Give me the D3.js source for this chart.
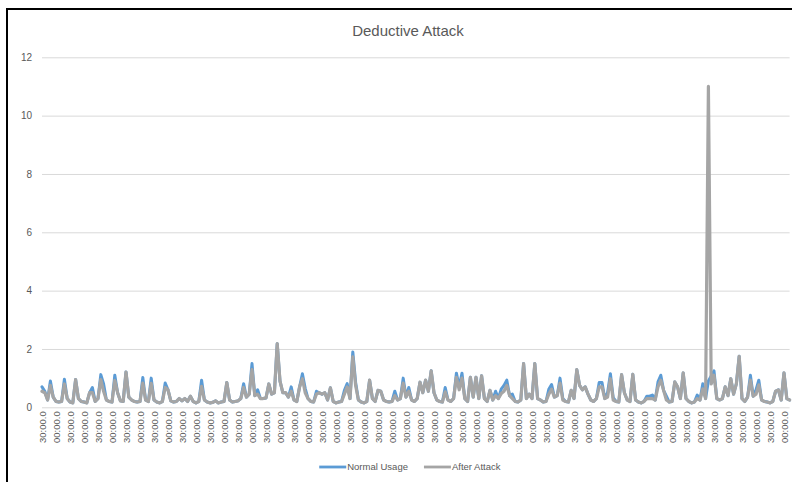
<!DOCTYPE html>
<html>
<head>
<meta charset="utf-8">
<script src="https://cdn.jsdelivr.net/npm/d3@7"></script>
<style>
  body { margin: 0; background: #fff; }
  svg { display: block; font-family: "Liberation Sans", Arial, sans-serif; }
</style>
</head>
<body>
<svg id="chart" width="792" height="482"></svg>
<script>
// Category axis labels (one every five readings, half-hour steps)
const tickLabels = [
  "30:00.0","00:00.0","30:00.0","00:00.0","30:00.0","00:00.0","30:00.0","00:00.0","30:00.0","00:00.0",
  "30:00.0","00:00.0","30:00.0","00:00.0","30:00.0","00:00.0","30:00.0","00:00.0","30:00.0","00:00.0",
  "30:00.0","00:00.0","30:00.0","00:00.0","30:00.0","00:00.0","30:00.0","00:00.0","30:00.0","00:00.0",
  "30:00.0","00:00.0","30:00.0","00:00.0","30:00.0","00:00.0","30:00.0","00:00.0","30:00.0","00:00.0",
  "30:00.0","00:00.0","30:00.0","00:00.0","30:00.0","00:00.0","30:00.0","00:00.0","30:00.0","00:00.0",
  "30:00.0","00:00.0","30:00.0","00:00.0"
];
const pointsPerLabel = 5;

const yTicks = [0, 2, 4, 6, 8, 10, 12];

const seriesNames = ["Normal Usage", "After Attack"];
const seriesColors = ["#5B9BD5", "#A5A5A5"];

const normalUsage = [
  0.7,0.55,0.25,0.9,0.35,0.2,0.18,0.2,0.96,0.3,
  0.18,0.15,0.95,0.3,0.2,0.18,0.15,0.5,0.68,0.2,
  0.3,1.12,0.8,0.25,0.2,0.18,1.1,0.5,0.22,0.2,
  1.21,0.35,0.25,0.2,0.18,0.2,1.02,0.25,0.2,1.0,
  0.25,0.18,0.15,0.2,0.83,0.6,0.22,0.18,0.2,0.3,
  0.22,0.3,0.2,0.38,0.2,0.15,0.2,0.93,0.25,0.18,
  0.15,0.17,0.22,0.15,0.18,0.2,0.85,0.25,0.18,0.2,
  0.22,0.3,0.81,0.35,0.45,1.5,0.4,0.6,0.3,0.3,
  0.32,0.8,0.45,0.5,2.18,0.9,0.5,0.5,0.35,0.7,
  0.25,0.2,0.7,1.15,0.65,0.3,0.2,0.18,0.55,0.5,
  0.45,0.5,0.25,0.67,0.2,0.15,0.18,0.2,0.58,0.81,
  0.3,1.9,0.86,0.25,0.18,0.15,0.2,0.93,0.3,0.2,
  0.58,0.55,0.25,0.2,0.18,0.2,0.55,0.25,0.3,1.0,
  0.35,0.68,0.25,0.2,0.3,0.86,0.5,0.93,0.55,1.25,
  0.5,0.25,0.2,0.18,0.68,0.25,0.2,0.3,1.17,0.7,
  1.17,0.3,0.2,1.03,0.35,1.03,0.3,1.08,0.3,0.2,
  0.58,0.25,0.55,0.3,0.62,0.75,0.93,0.4,0.45,0.2,
  0.18,0.25,1.5,0.3,0.45,0.3,1.5,0.3,0.25,0.18,
  0.2,0.62,0.78,0.35,0.4,1.0,0.3,0.2,0.18,0.58,
  0.3,1.29,0.75,0.6,0.7,0.45,0.25,0.2,0.3,0.85,
  0.85,0.3,0.5,1.15,0.33,0.2,0.18,1.12,0.5,0.25,
  0.2,1.13,0.25,0.18,0.15,0.2,0.38,0.38,0.42,0.25,
  0.87,1.1,0.58,0.38,0.18,0.2,0.87,0.7,0.3,1.18,
  0.3,0.2,0.15,0.18,0.42,0.25,0.81,0.3,0.9,1.07,
  1.25,0.3,0.25,0.3,0.7,0.4,0.98,0.45,0.81,1.75,
  0.3,0.2,0.35,1.1,0.38,0.6,0.93,0.25,0.2,0.18,
  0.15,0.2,0.55,0.6,0.25,1.18,0.3,0.25
];

const afterAttack = [
  0.55,0.5,0.25,0.75,0.35,0.2,0.18,0.2,0.8,0.3,
  0.18,0.15,0.95,0.3,0.2,0.18,0.15,0.5,0.5,0.2,
  0.3,0.95,0.55,0.25,0.2,0.18,0.92,0.5,0.22,0.2,
  1.21,0.35,0.25,0.2,0.18,0.2,0.83,0.25,0.2,0.82,
  0.25,0.18,0.15,0.2,0.68,0.6,0.22,0.18,0.2,0.3,
  0.22,0.3,0.2,0.38,0.2,0.15,0.2,0.72,0.25,0.18,
  0.15,0.17,0.22,0.15,0.18,0.2,0.85,0.25,0.18,0.2,
  0.22,0.3,0.68,0.35,0.45,1.29,0.4,0.45,0.3,0.3,
  0.32,0.8,0.45,0.5,2.18,0.9,0.5,0.5,0.35,0.55,
  0.25,0.2,0.7,0.98,0.5,0.3,0.2,0.18,0.45,0.5,
  0.45,0.5,0.25,0.67,0.2,0.15,0.18,0.2,0.45,0.7,
  0.3,1.73,0.75,0.25,0.18,0.15,0.2,0.93,0.3,0.2,
  0.58,0.55,0.25,0.2,0.18,0.2,0.4,0.25,0.3,0.83,
  0.35,0.55,0.25,0.2,0.3,0.86,0.5,0.93,0.55,1.25,
  0.5,0.25,0.2,0.18,0.53,0.25,0.2,0.3,1.03,0.6,
  1.0,0.3,0.2,1.03,0.35,1.03,0.3,1.08,0.3,0.2,
  0.58,0.25,0.4,0.3,0.47,0.55,0.75,0.4,0.3,0.2,
  0.18,0.25,1.5,0.3,0.45,0.3,1.5,0.3,0.25,0.18,
  0.2,0.45,0.62,0.35,0.4,0.83,0.25,0.2,0.18,0.58,
  0.3,1.29,0.75,0.6,0.7,0.45,0.25,0.2,0.3,0.7,
  0.7,0.3,0.35,0.98,0.25,0.2,0.18,1.12,0.5,0.25,
  0.2,1.13,0.25,0.18,0.15,0.2,0.3,0.3,0.3,0.25,
  0.7,0.93,0.58,0.25,0.18,0.2,0.87,0.7,0.3,1.18,
  0.3,0.2,0.15,0.18,0.3,0.25,0.63,0.3,11.0,0.8,
  1.1,0.3,0.25,0.3,0.7,0.4,0.98,0.45,0.81,1.75,
  0.3,0.2,0.35,0.93,0.38,0.45,0.77,0.25,0.2,0.18,
  0.15,0.2,0.55,0.6,0.25,1.18,0.3,0.25
];

const svg = d3.select("#chart");
const W = 792, H = 482;
const plot = { left: 42, right: 789.6, top: 57.3, bottom: 407.3 };
const textColor = "#595959";
const fontStack = "\"Liberation Sans\", Arial, sans-serif";

// Frame edges
svg.append("path")
  .attr("d", `M7,${H} V9 H${W}`)
  .attr("fill", "none")
  .attr("stroke", "#000")
  .attr("stroke-width", 2);

// Title
svg.append("text")
  .attr("x", 408).attr("y", 36)
  .attr("text-anchor", "middle")
  .attr("font-size", 15)
  .attr("fill", textColor)
  .text("Deductive Attack");

const N = afterAttack.length;
const x = d3.scalePoint().domain(d3.range(N)).range([plot.left, plot.right]);
const y = d3.scaleLinear().domain([0, 12]).range([plot.bottom, plot.top]);

// Y axis with gridlines
const yAxis = svg.append("g")
  .attr("transform", `translate(${plot.left},0)`)
  .call(d3.axisLeft(y).tickValues(yTicks).tickSize(-(plot.right - plot.left)).tickPadding(10).tickFormat(d3.format("d")));
yAxis.select(".domain").remove();
yAxis.selectAll(".tick line").attr("stroke", "#D9D9D9").attr("stroke-width", 1);
yAxis.selectAll(".tick text").attr("fill", textColor).attr("font-size", 10)
  .attr("font-family", fontStack);

// X axis: labels every few readings, rotated
const labelIdx = d3.range(0, N, pointsPerLabel).slice(0, tickLabels.length);
const xAxis = svg.append("g")
  .attr("transform", `translate(0,${plot.bottom})`)
  .call(d3.axisBottom(x).tickValues(labelIdx).tickSize(0)
    .tickFormat(d => tickLabels[d / pointsPerLabel]));
xAxis.select(".domain").remove();
xAxis.selectAll(".tick text")
  .attr("fill", textColor).attr("font-size", 9.5)
  .attr("font-family", fontStack)
  .attr("text-anchor", "end")
  .attr("dy", "0.35em")
  .attr("transform", "translate(0,4) rotate(-90)")
  .attr("x", 0).attr("y", 0);

// Series lines; the later series is painted on top
const line = d3.line().x((d, i) => x(i)).y(d => y(d));
const widthsBySeries = [3, 3.2];
[normalUsage, afterAttack].forEach((vals, k) => {
  svg.append("path")
    .datum(vals)
    .attr("fill", "none")
    .attr("stroke", seriesColors[k])
    .attr("stroke-width", widthsBySeries[k])
    .attr("stroke-linejoin", "round")
    .attr("stroke-linecap", "round")
    .attr("d", line);
});

// Legend, centred under the plot
const legend = svg.append("g").attr("transform", "translate(0,467)");
const items = legend.selectAll("g").data(seriesNames).join("g");
items.append("line")
  .attr("x1", 0).attr("x2", 27).attr("y1", 0).attr("y2", 0)
  .attr("stroke", (d, i) => seriesColors[i]).attr("stroke-width", 2.8);
items.append("text")
  .attr("x", 28).attr("dy", "0.35em")
  .attr("font-size", 9.5).attr("fill", textColor)
  .text(d => d);
let widths = [];
items.each(function () { widths.push(this.getBBox().width); });
const gap = 16;
const total = d3.sum(widths) + gap * (widths.length - 1);
let cx = 410 - total / 2;
items.attr("transform", (d, i) => {
  const t = `translate(${cx},0)`;
  cx += widths[i] + gap;
  return t;
});
</script>
</body>
</html>
